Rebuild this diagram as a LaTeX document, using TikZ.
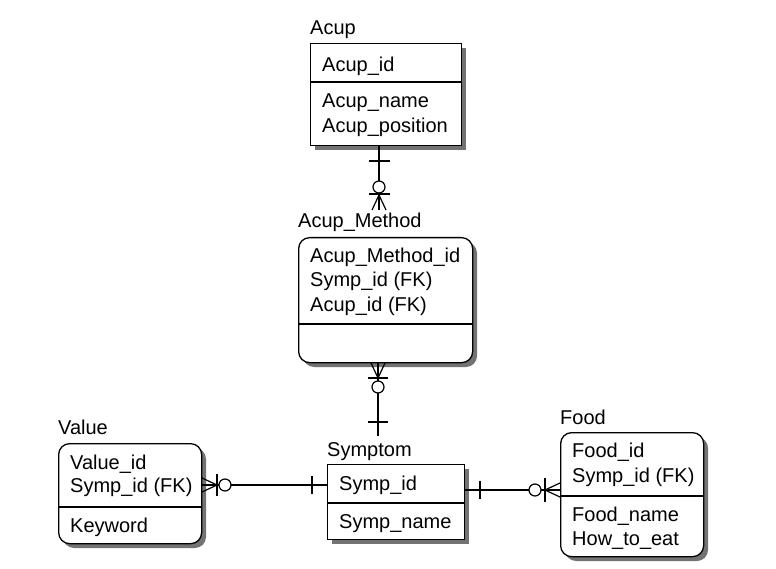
\documentclass[tikz,border=0pt]{standalone}
\usepackage{fontspec}
\setmainfont{Liberation Sans}
\usetikzlibrary{calc}
\begin{document}
\begin{tikzpicture}[x=1pt,y=-1pt,font=\fontsize{20}{24}\selectfont]
\tikzset{
  ebox/.style={draw=black, line width=1.3pt, fill=white, inner sep=0pt, anchor=north west},
  rbox/.style={ebox, rounded corners=11pt},
  shade/.style={fill=black!55, draw=none},
  txt/.style={anchor=base west, inner sep=0pt},
  rel/.style={line width=1.2pt},
}
\useasboundingbox (0,0) rectangle (776,569);

% ---------- shadows ----------
\fill[shade] (315,48) rectangle (466,150);
\fill[shade, rounded corners=11pt] (303,242) rectangle (477,367);
\fill[shade, rounded corners=11pt] (63,448) rectangle (206,548);
\fill[shade] (332,469) rectangle (469,544);
\fill[shade, rounded corners=11pt] (565,437) rectangle (708,561);

% ---------- entity boxes ----------
\node[ebox, minimum width=151pt, minimum height=102pt] (acup) at (310,43) {};
\node[rbox, minimum width=174pt, minimum height=125pt] (acupm) at (298,237) {};
\node[rbox, minimum width=143pt, minimum height=100pt] (value) at (58,443) {};
\node[ebox, minimum width=137pt, minimum height=75pt] (symp) at (327,464) {};
\node[rbox, minimum width=143pt, minimum height=124pt] (food) at (560,432) {};

% dividers
\draw[rel] (acup.west |- 0,82) -- (acup.east |- 0,82);
\draw[rel] (acupm.west |- 0,324) -- (acupm.east |- 0,324);
\draw[rel] (value.west |- 0,507) -- (value.east |- 0,507);
\draw[rel] (symp.west |- 0,503) -- (symp.east |- 0,503);
\draw[rel] (food.west |- 0,496) -- (food.east |- 0,496);

% ---------- titles ----------
\node[txt] (tacup)  at (310,35)  {Acup};
\node[txt] (tacupm) at (298,228) {Acup\_Method};
\node[txt] (tvalue) at (58,434)  {Value};
\node[txt] (tsymp)  at (327,456) {Symptom};
\node[txt] (tfood)  at (560,424) {Food};

% ---------- attributes ----------
\node[txt] (a1) at (322,72)  {Acup\_id};
\node[txt] (a2) at (322,108) {Acup\_name};
\node[txt] (a3) at (322,133) {Acup\_position};

\node[txt] (m1) at (310,263) {Acup\_Method\_id};
\node[txt] (m2) at (310,287) {Symp\_id (FK)};
\node[txt] (m3) at (310,312) {Acup\_id (FK)};

\node[txt] (v1) at (70,469)  {Value\_id};
\node[txt] (v2) at (70,492)  {Symp\_id (FK)};
\node[txt] (v3) at (70,532)  {Keyword};

\node[txt] (s1) at (339,490) {Symp\_id};
\node[txt] (s2) at (339,528) {Symp\_name};

\node[txt] (f1) at (572,457) {Food\_id};
\node[txt] (f2) at (572,482) {Symp\_id (FK)};
\node[txt] (f3) at (572,521) {Food\_name};
\node[txt] (f4) at (572,545) {How\_to\_eat};

% ---------- connector end points ----------
\coordinate (e1) at (379,210);
\coordinate (e2) at (378,436);
\coordinate (e3) at (202,485);
\coordinate (e4) at (464,490);

% Acup -> Acup_Method
\draw[rel] (acup.south -| e1) -- (e1);
\draw[rel] (369,161) -- (390,161);
\draw[rel, fill=white] (379,187) circle[radius=6];
\draw[rel] (369,194) -- (390,194);
\draw[rel] (379,195) -- (372,210) (379,195) -- (386,210);

% Acup_Method -> Symptom
\draw[rel] (acupm.south -| e2) -- (e2);
\draw[rel] (378,378) -- (371,363) (378,378) -- (385,363);
\draw[rel] (368,378) -- (388,378);
\draw[rel, fill=white] (378,387) circle[radius=6];
\draw[rel] (368,422) -- (388,422);

% Value <- Symptom
\draw[rel] (e3) -- (symp.west |- e3);
\draw[rel] (217,485) -- (202,478) (217,485) -- (202,492);
\draw[rel] (217,474) -- (217,496);
\draw[rel, fill=white] (225,485) circle[radius=6];
\draw[rel] (312,476) -- (312,494);

% Symptom -> Food
\draw[rel] (e4) -- (food.west |- e4);
\draw[rel] (480,481) -- (480,499);
\draw[rel, fill=white] (535,490) circle[radius=6];
\draw[rel] (545,478) -- (545,502);
\draw[rel] (545,490) -- (560,483) (545,490) -- (560,497);
\end{tikzpicture}
\end{document}
